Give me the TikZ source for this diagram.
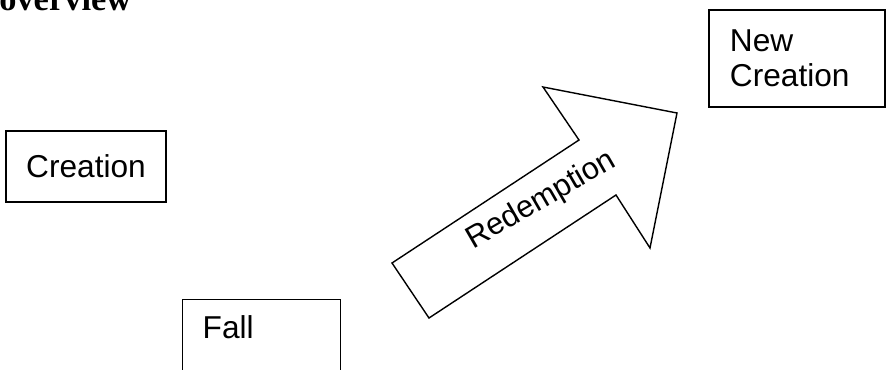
\documentclass[tikz,border=0pt]{standalone}
\usepackage{fontspec}
\setmainfont{Liberation Serif}
\setsansfont{Liberation Sans}
\usepackage{tikz}
\usetikzlibrary{positioning,calc}

\begin{document}
\begin{tikzpicture}[
  x=0.025cm, y=-0.025cm,
  every node/.style={font=\sffamily\fontsize{22.5}{25}\selectfont, inner sep=0pt},
  box/.style={draw, line width=1pt},
  heading/.style={font=\rmfamily\bfseries\fontsize{24.5}{28}\selectfont},
  bigarrow/.style={draw, line width=1pt, line join=miter}
]
\useasboundingbox (0,0) rectangle (887,369);
\clip (0,0) rectangle (887,369);
\node[heading, anchor=base west] (T) at (-1,10) {overview};
\node[box, minimum width=4cm, minimum height=1.775cm] (C) at (86,166.5) {Creation};
\node[box, minimum width=4.4cm, minimum height=2.425cm, text width=3.35cm, align=left] (NC) at (797,58.5) {New\\Creation};
\node[box, anchor=north west, inner xsep=0.5cm, inner ysep=0.4cm, text width=2.95cm, align=left, text depth=1cm] (F) at (182,299) {Fall};
% the big arrow
\coordinate (a1) at (392,263);
\coordinate (a2) at (579,140);
\coordinate (a3) at (543,87);
\coordinate (a4) at (677,113);
\coordinate (a5) at (650,248);
\coordinate (a6) at (616,195);
\coordinate (a7) at (429,318);
\draw[bigarrow] (a1) -- (a2) -- (a3) -- (a4) -- (a5) -- (a6) -- (a7) -- cycle;
\node[rotate=30, font=\sffamily\fontsize{22}{25}\selectfont] (R) at (541.5,200.5) {Redemption};
\end{tikzpicture}
\end{document}
